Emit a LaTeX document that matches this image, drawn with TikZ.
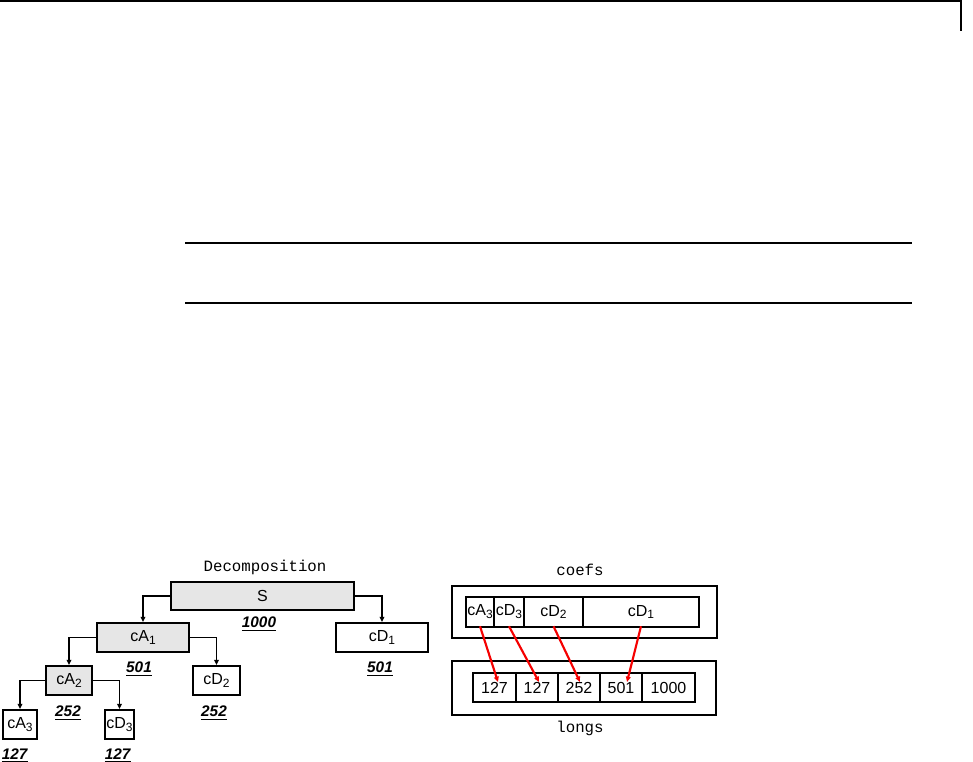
\documentclass[tikz,border=0pt]{standalone}
\usepackage{fontspec}
\setmainfont{Liberation Sans}
\setmonofont{Liberation Mono}
\usetikzlibrary{arrows.meta,positioning}
\definecolor{boxgray}{RGB}{230,230,230}
\definecolor{linkred}{RGB}{245,0,0}
\newcommand{\px}{0.75pt}
\newcommand{\cnt}[1]{\underline{\textbf{\textit{#1}}}}
\newcommand{\sub}[1]{\raisebox{-0.35ex}{\fontsize{9}{10}\selectfont #1}}

\begin{document}
\begin{tikzpicture}[x=0.75pt,y=-0.75pt,
  tbox/.style={draw, line width=1.3pt, inner sep=0pt, minimum height=29*\px, font=\fontsize{12}{14}\selectfont},
  cell/.style={draw, line width=0.9pt, inner sep=0pt, font=\fontsize{12}{14}\selectfont},
  frame/.style={draw, line width=1.2pt, inner sep=0pt},
  count/.style={inner sep=0pt, font=\fontsize{11.5}{13}\selectfont},
  title/.style={inner sep=0pt, font=\ttfamily\fontsize{11.8}{13}\selectfont},
  tree/.style={line width=1pt, -{Triangle[length=4pt,width=3.5pt]}},
  link/.style={linkred, line width=1.6pt, -{Triangle[length=4pt,width=3.5pt]}}]
  \useasboundingbox (0,0) rectangle (973,761);
  % page frame and rules
  \draw[line width=0.9pt] (0,1) -| (961,31);
  \draw[line width=0.9pt] (185,243) -- (912,243);
  \draw[line width=0.9pt] (185,303) -- (912,303);
  % decomposition tree
  \node[title] (dtitle) at (265,567) {Decomposition};
  \node[tbox, fill=boxgray, minimum width=183*\px, minimum height=28*\px] (S) at (262.5,596) {S};
  \node[tbox, fill=boxgray, minimum width=92*\px] (cA1) at (143,637.5) {cA\sub{1}};
  \node[tbox, minimum width=92*\px] (cD1) at (382,637.5) {cD\sub{1}};
  \node[tbox, fill=boxgray, minimum width=46*\px] (cA2) at (69,680.5) {cA\sub{2}};
  \node[tbox, minimum width=47*\px] (cD2) at (216.5,680.5) {cD\sub{2}};
  \node[tbox, minimum width=34*\px] (cA3) at (20,724.5) {cA\sub{3}};
  \node[tbox, minimum width=29*\px] (cD3) at (119.5,724.5) {cD\sub{3}};
  \node[count] (nS) at (259,624) {\cnt{1000}};
  \node[count] (nA1) at (139,669) {\cnt{501}};
  \node[count] (nD1) at (380,669) {\cnt{501}};
  \node[count] (nA2) at (68,713) {\cnt{252}};
  \node[count] (nD2) at (214,713) {\cnt{252}};
  \node[count] (nA3) at (15,755) {\cnt{127}};
  \node[count] (nD3) at (118,755) {\cnt{127}};
  \draw[tree] (S.west) -| (cA1.north);
  \draw[tree] (S.east) -| (cD1.north);
  \draw[tree] (cA1.west) -| (cA2.north);
  \draw[tree] (cA1.east) -| (cD2.north);
  \draw[tree] (cA2.west) -| (cA3.north);
  \draw[tree] (cA2.east) -| (cD3.north);
  % coefs vector
  \node[title] (ctitle) at (580,570) {coefs};
  \node[frame, minimum width=265*\px, minimum height=52*\px] (coefs) at (584.5,612) {};
  \node[cell, minimum width=28*\px, minimum height=30*\px] (k1) at (480,612) {cA\sub{3}};
  \node[cell, minimum width=30*\px, minimum height=30*\px] (k2) at (509,612) {cD\sub{3}};
  \node[cell, minimum width=59*\px, minimum height=30*\px] (k3) at (553.5,612) {cD\sub{2}};
  \node[cell, minimum width=116*\px, minimum height=30*\px] (k4) at (641,612) {cD\sub{1}};
  % longs vector
  \node[frame, minimum width=264*\px, minimum height=54*\px] (longs) at (584,688) {};
  \node[cell, minimum width=43*\px, minimum height=29*\px] (l1) at (494.5,687.5) {127};
  \node[cell, minimum width=42*\px, minimum height=29*\px] (l2) at (537,687.5) {127};
  \node[cell, minimum width=42*\px, minimum height=29*\px] (l3) at (579,687.5) {252};
  \node[cell, minimum width=42*\px, minimum height=29*\px] (l4) at (621,687.5) {501};
  \node[cell, minimum width=53*\px, minimum height=29*\px] (l5) at (668.5,687.5) {1000};
  \node[title] (ltitle) at (580,728) {longs};
  % links from coefs to longs
  \foreach \a/\b/\dx in {k1/l1/3.5, k2/l2/2, k3/l3/1, k4/l4/6}
    \draw[link] ([yshift=1pt]\a.south) -- ([shift={(\dx,-5.5)}]\b.center);
\end{tikzpicture}
\end{document}
